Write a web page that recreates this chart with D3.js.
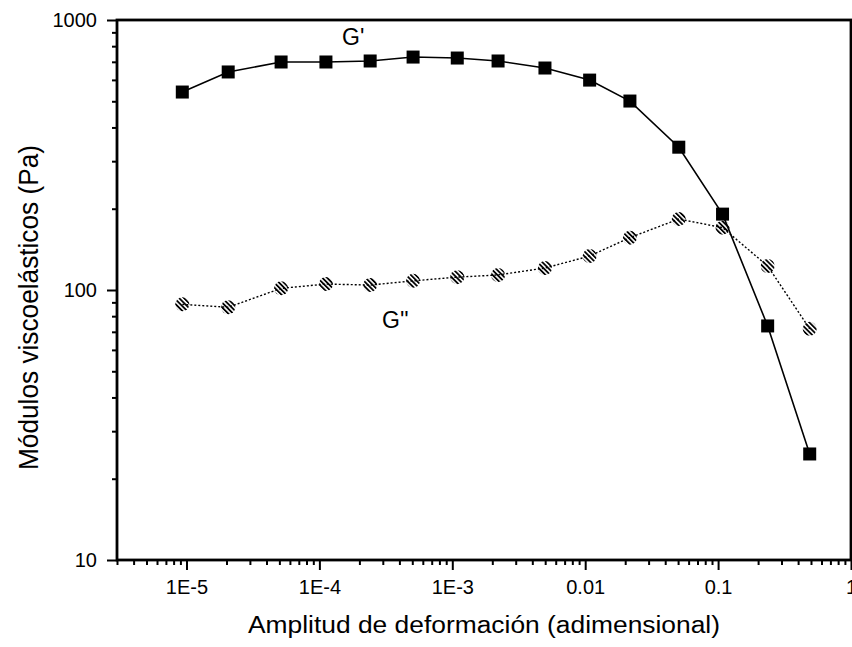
<!DOCTYPE html>
<head>
    <meta charset="utf-8">
    <script src="https://d3js.org/d3.v7.js"></script>
    <style>
        body { margin: 0; background: #fff; }
        text { font-family: "Liberation Sans", Arial, sans-serif; fill: #000; }
    </style>
</head>
<body>
    <svg id="chart" width="852" height="647"></svg>
    <script>
        // Data
        const strain = [9.3e-6, 2.06e-5, 5.15e-5, 1.12e-4, 2.41e-4, 5.07e-4, 1.09e-3, 2.21e-3,
                        4.98e-3, 0.0108, 0.0217, 0.0506, 0.108, 0.236, 0.489];
        const gPrime = [541, 642, 699, 699, 705, 729, 723, 705, 664, 599, 501, 338, 191, 73.6, 24.7];
        const gDouble = [88.5, 86.3, 101.4, 105.2, 104.3, 108.1, 111.6, 113.7, 120.6, 133.6,
                         156.3, 183.2, 170.2, 122.7, 71.8];
        const xMajor = [1e-5, 1e-4, 1e-3, 0.01, 0.1, 1];
        const xLabels = ["1E-5", "1E-4", "1E-3", "0.01", "0.1", "1"];
        const yMajor = [10, 100, 1000];
        const yLabels = ["10", "100", "1000"];

        const svg = d3.select("svg");
        const x0 = 117, y0 = 20, x1 = 851, y1 = 560;

        const x = d3.scaleLog().domain([3e-6, 1]).range([x0, x1]);
        const y = d3.scaleLog().domain([10, 1000]).range([y1, y0]);

        // minor ticks: 2..9 of every decade inside the domain
        const xMinor = [];
        for (let e = -6; e < 0; e++) {
            for (let m = 2; m <= 9; m++) {
                const v = m * Math.pow(10, e);
                if (v >= 3e-6 && v < 1) xMinor.push(v);
            }
        }
        const yMinor = [];
        for (let e = 1; e < 3; e++) {
            for (let m = 2; m <= 9; m++) yMinor.push(m * Math.pow(10, e));
        }

        // hatch pattern for G'' markers
        const defs = svg.append("defs");
        defs.append("pattern")
            .attr("id", "hatch")
            .attr("patternUnits", "userSpaceOnUse")
            .attr("width", 3.4)
            .attr("height", 3.4)
            .attr("patternTransform", "rotate(-45)")
          .append("rect")
            .attr("width", 1.8)
            .attr("height", 3.4)
            .attr("fill", "#000");

        // axes
        svg.append("g")
            .attr("transform", `translate(0,${y1})`)
            .call(d3.axisBottom(x).tickValues(xMinor).tickSize(5).tickFormat(""));
        svg.append("g")
            .attr("transform", `translate(0,${y1})`)
            .call(d3.axisBottom(x).tickValues(xMajor).tickSize(10)
                .tickFormat((d, i) => xLabels[i]).tickPadding(10));
        svg.append("g")
            .attr("transform", `translate(${x0},0)`)
            .call(d3.axisLeft(y).tickValues(yMinor).tickSize(5).tickFormat(""));
        svg.append("g")
            .attr("transform", `translate(${x0},0)`)
            .call(d3.axisLeft(y).tickValues(yMajor).tickSize(10)
                .tickFormat((d, i) => yLabels[i]).tickPadding(10));

        svg.selectAll(".domain").remove();
        svg.selectAll(".tick line").attr("stroke", "#000").attr("stroke-width", 2);
        svg.selectAll(".tick text").style("font-size", "20px")
            .style("font-family", "'Liberation Sans', Arial, sans-serif");

        // frame
        svg.append("rect")
            .attr("x", x0).attr("y", y0)
            .attr("width", x1 - x0).attr("height", y1 - y0)
            .attr("fill", "none")
            .attr("stroke", "#000")
            .attr("stroke-width", 2.8);

        const pts1 = strain.map((s, i) => [s, gPrime[i]]);
        const pts2 = strain.map((s, i) => [s, gDouble[i]]);
        const line = d3.line().x(d => x(d[0])).y(d => y(d[1]));

        // G'' dotted line
        svg.append("path")
            .attr("d", line(pts2))
            .attr("fill", "none")
            .attr("stroke", "#000")
            .attr("stroke-width", 1.4)
            .attr("stroke-dasharray", "2,2");

        // G' solid line
        svg.append("path")
            .attr("d", line(pts1))
            .attr("fill", "none")
            .attr("stroke", "#000")
            .attr("stroke-width", 1.6);

        svg.append("g").selectAll("rect")
            .data(pts1)
            .join("rect")
                .attr("x", d => x(d[0]) - 6.5)
                .attr("y", d => y(d[1]) - 6.5)
                .attr("width", 13)
                .attr("height", 13)
                .attr("fill", "#000");

        svg.append("g").selectAll("circle")
            .data(pts2)
            .join("circle")
                .attr("cx", d => x(d[0]))
                .attr("cy", d => y(d[1]))
                .attr("r", 7)
                .attr("fill", "url(#hatch)");

        // series labels
        svg.append("text").attr("x", 342).attr("y", 45)
            .style("font-size", "23px").text("G'");
        svg.append("text").attr("x", 382).attr("y", 328)
            .style("font-size", "23px").text("G''");

        // axis titles
        svg.append("text")
            .attr("x", 248)
            .attr("y", 633)
            .attr("textLength", 472)
            .attr("lengthAdjust", "spacingAndGlyphs")
            .style("font-size", "23px")
            .text("Amplitud de deformación (adimensional)");
        svg.append("text")
            .attr("transform", "translate(38,470) rotate(-90)")
            .attr("textLength", 325)
            .attr("lengthAdjust", "spacingAndGlyphs")
            .style("font-size", "27px")
            .text("Módulos viscoelásticos (Pa)");
    </script>
</body>
